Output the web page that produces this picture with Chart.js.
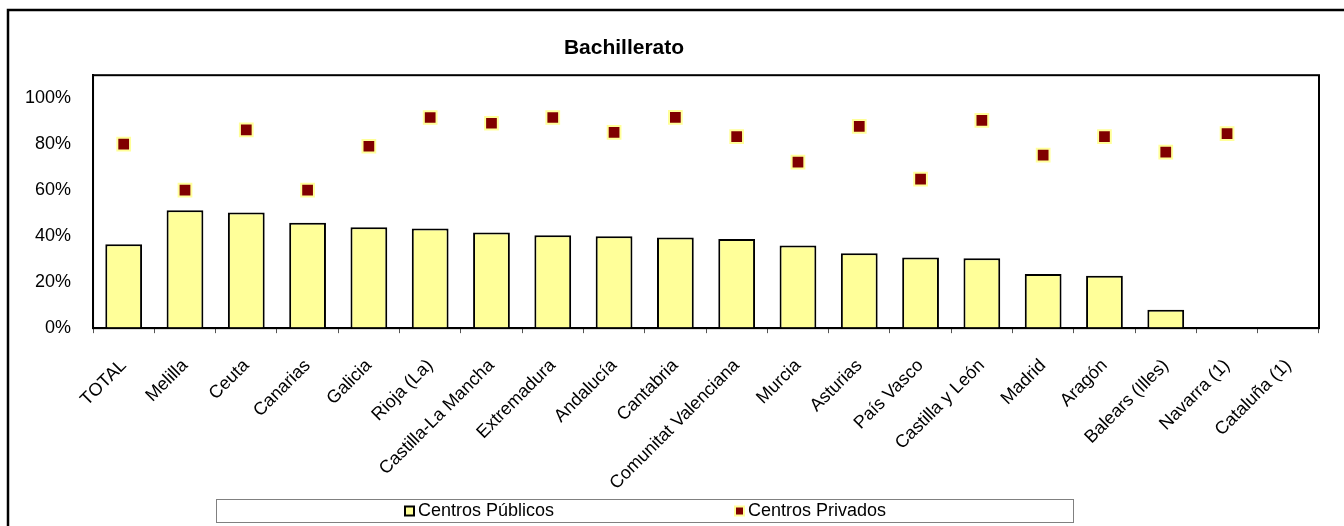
<!DOCTYPE html>
<html>
<head>
<meta charset="utf-8">
<script src="https://cdn.jsdelivr.net/npm/chart.js@4/dist/chart.umd.min.js"></script>
<style>
  html, body { margin: 0; padding: 0; background: #fff; }
  canvas { display: block; }
</style>
</head>
<body>
<canvas id="chart" width="1344" height="526"></canvas>
<script>
// datos
const categorias = ['TOTAL', 'Melilla', 'Ceuta', 'Canarias', 'Galicia', 'Rioja (La)',
    'Castilla-La Mancha', 'Extremadura', 'Andalucía', 'Cantabria', 'Comunitat Valenciana',
    'Murcia', 'Asturias', 'País Vasco', 'Castilla y León', 'Madrid', 'Aragón',
    'Balears (Illes)', 'Navarra (1)', 'Cataluña (1)'];
const centrosPublicos = [0.365, 0.513, 0.503, 0.458, 0.439, 0.433, 0.416, 0.404, 0.400, 0.394,
    0.388, 0.359, 0.326, 0.307, 0.304, 0.235, 0.228, 0.080, null, null];
const centrosPrivados = [0.800, 0.600, 0.862, 0.600, 0.791, 0.916, 0.891, 0.916, 0.851, 0.917,
    0.833, 0.722, 0.877, 0.648, 0.904, 0.752, 0.833, 0.765, 0.846, null];
const titulo = 'Bachillerato';
const nombresSeries = ['Centros Públicos', 'Centros Privados'];

const FONT = 'Liberation Sans, Arial, sans-serif';
const AMARILLO = '#FFFF99';
const GRANATE = '#800000';

// marco exterior, marco del area de trazado, titulo desplazado y leyenda con borde
const marcosPlugin = {
    id: 'marcos',
    afterLayout(chart) {
        // el titulo esta centrado en el marco original, no en el lienzo
        chart.titleBlock.left = 8;
        chart.titleBlock.right = 1240;
    },
    beforeDraw(chart) {
        const ctx = chart.ctx;
        ctx.save();
        ctx.strokeStyle = '#000';
        ctx.lineWidth = 2.5;
        ctx.beginPath();
        ctx.moveTo(8, chart.height);
        ctx.lineTo(8, 10);
        ctx.lineTo(chart.width, 10);
        ctx.stroke();
        ctx.restore();
    },
    afterDraw(chart) {
        const ctx = chart.ctx;
        const a = chart.chartArea;
        ctx.save();
        ctx.strokeStyle = '#000';
        ctx.lineWidth = 2;
        ctx.strokeRect(a.left, a.top, a.right - a.left, a.bottom - a.top);

        // leyenda
        const box = { left: 216, right: 1073, top: 499, bottom: 522 };
        ctx.lineWidth = 1;
        ctx.strokeStyle = '#808080';
        ctx.strokeRect(box.left + 0.5, box.top + 0.5, box.right - box.left, box.bottom - box.top);
        const cy = (box.top + box.bottom) / 2;
        const items = [
            { x: 405, fill: AMARILLO, stroke: '#000' },
            { x: 735, fill: GRANATE, stroke: AMARILLO }
        ];
        ctx.font = '18px ' + FONT;
        ctx.textBaseline = 'middle';
        ctx.textAlign = 'left';
        items.forEach((it, i) => {
            ctx.fillStyle = it.fill;
            ctx.strokeStyle = it.stroke;
            ctx.lineWidth = 2;
            ctx.fillRect(it.x, cy - 4, 9, 9);
            ctx.strokeRect(it.x, cy - 4, 9, 9);
            ctx.fillStyle = '#000';
            ctx.fillText(nombresSeries[i], it.x + 13, cy + 1);
        });
        ctx.restore();
    }
};

new Chart(document.getElementById('chart'), {
    data: {
        labels: categorias,
        datasets: [
            {
                type: 'line',
                label: nombresSeries[1],
                data: centrosPrivados,
                showLine: false,
                pointStyle: 'rect',
                pointRadius: 9,
                pointHoverRadius: 9,
                pointBackgroundColor: GRANATE,
                pointBorderColor: AMARILLO,
                pointBorderWidth: 2,
                order: 0
            },
            {
                type: 'bar',
                label: nombresSeries[0],
                data: centrosPublicos,
                backgroundColor: AMARILLO,
                borderColor: '#000',
                borderWidth: 2,
                categoryPercentage: 1,
                barPercentage: 0.6,
                order: 1
            }
        ]
    },
    options: {
        responsive: false,
        animation: false,
        devicePixelRatio: 1,
        layout: { padding: { top: 0, left: 3, right: 25, bottom: 10 } },
        plugins: {
            legend: { display: false },
            tooltip: { enabled: false },
            title: {
                display: true,
                text: titulo,
                color: '#000',
                font: { family: FONT, size: 21, weight: 'bold' },
                padding: { top: 36, bottom: 14 }
            }
        },
        scales: {
            x: {
                type: 'category',
                offset: true,
                grid: {
                    offset: true,
                    drawOnChartArea: false,
                    drawTicks: true,
                    tickLength: 5,
                    color: '#555'
                },
                border: { display: true, color: '#000', width: 2 },
                ticks: {
                    color: '#000',
                    font: { family: FONT, size: 18 },
                    minRotation: 45,
                    maxRotation: 45,
                    autoSkip: false,
                    padding: 22
                },
                afterFit(scale) {
                    // la primera etiqueta girada no debe empujar el eje Y
                    scale.paddingLeft = 0;
                }
            },
            y: {
                min: 0,
                max: 1.1,
                grid: { display: false, drawTicks: false },
                border: { display: true, color: '#000', width: 2 },
                ticks: {
                    stepSize: 0.2,
                    includeBounds: false,
                    color: '#000',
                    font: { family: FONT, size: 18 },
                    padding: 22,
                    callback: v => Math.round(v * 100) + '%'
                }
            }
        }
    },
    plugins: [marcosPlugin]
});
</script>
</body>
</html>
